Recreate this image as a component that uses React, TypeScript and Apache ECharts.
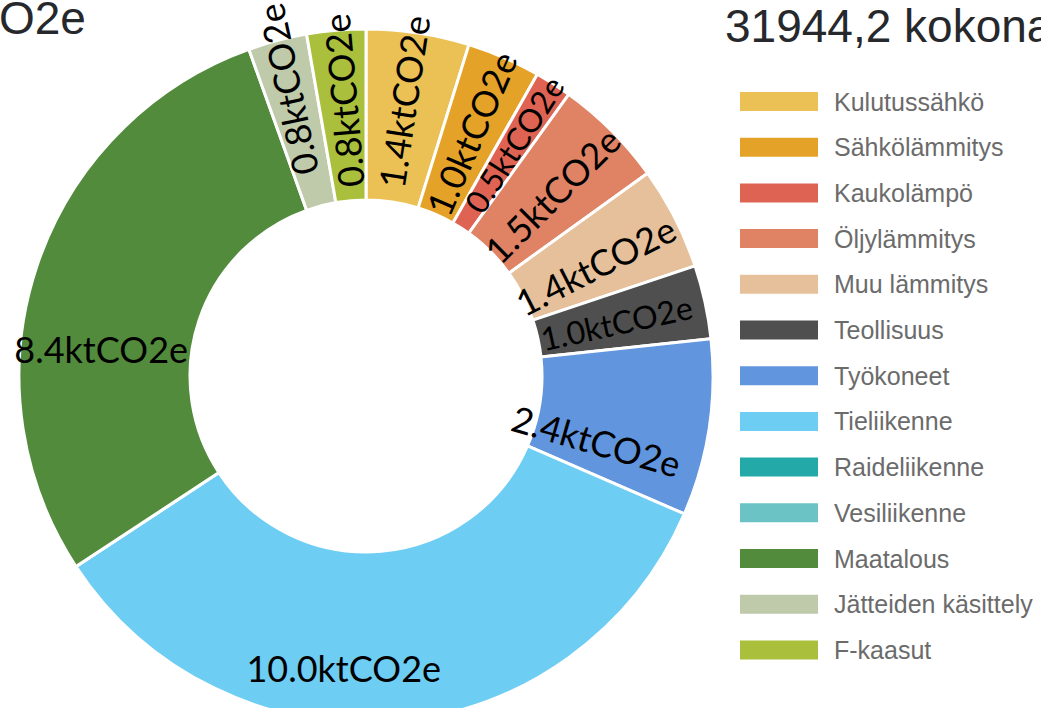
import React, { useEffect, useRef } from "react";
import * as echarts from "echarts";

const categories = [
  "Kulutussähkö",
  "Sähkölämmitys",
  "Kaukolämpö",
  "Öljylämmitys",
  "Muu lämmitys",
  "Teollisuus",
  "Työkoneet",
  "Tieliikenne",
  "Raideliikenne",
  "Vesiliikenne",
  "Maatalous",
  "Jätteiden käsittely",
  "F-kaasut",
];
const valuesKt = [1.4, 1.0, 0.5, 1.5, 1.4, 1.0, 2.4, 10.0, 0, 0, 8.4, 0.8, 0.8];
const colors = [
  "#EBC155",
  "#E5A228",
  "#DE6353",
  "#E08264",
  "#E6C09A",
  "#4F4F4F",
  "#6195DD",
  "#6ECDF2",
  "#22A9A8",
  "#6CC3C6",
  "#528B3C",
  "#BECAAA",
  "#AABF3B",
];
const titleLeft = "O2e";
const titleRight = "31944,2 kokona";
const unit = "ktCO2e";

// style tweaks (label orientation in degrees, screen-space nudges in px, sizes) by category
const labelRotate: Record<string, number> = {
  Maatalous: 0,
  Tieliikenne: 0,
  Työkoneet: -16,
  "Jätteiden käsittely": 102,
  "F-kaasut": 95,
};
const labelNudge: Record<string, [number, number]> = {
  Kulutussähkö: [-2, -13],
  Kaukolämpö: [5, -9],
  Öljylämmitys: [-1, 6],
  "Muu lämmitys": [-6, 10],
  Teollisuus: [-8, 3],
  Työkoneet: [-31, 25],
  Tieliikenne: [-45, 28],
  Maatalous: [-14, 57],
  "Jätteiden käsittely": [-11, -31],
  "F-kaasut": [0, -12],
};
const labelFontSize: Record<string, number> = {
  Kaukolämpö: 32,
  Teollisuus: 32,
};

export default function App() {
  const ref = useRef<HTMLDivElement>(null);
  useEffect(() => {
    if (!ref.current) return;
    const chart = echarts.init(ref.current, undefined, { renderer: "svg" });
    const total = valuesKt.reduce((a, b) => a + b, 0);
    // label rotation (deg, CCW) for each slice: explicit or radial
    const rotations = categories.map((name, i) => {
      if (name in labelRotate) return labelRotate[name];
      const before = valuesKt.slice(0, i).reduce((a, b) => a + b, 0);
      const midCw = ((before + valuesKt[i] / 2) / total) * 360;
      let a = 90 - midCw;
      while (a > 90) a -= 180;
      while (a <= -90) a += 180;
      return a;
    });
    const data = categories.map((name, i) => {
      const item: any = {
        name,
        value: valuesKt[i],
        itemStyle: { color: colors[i] },
      };
      if (valuesKt[i] === 0) {
        item.label = { show: false };
      } else {
        const lbl: any = {};
        if (name in labelRotate) lbl.rotate = labelRotate[name];
        if (name in labelFontSize) lbl.fontSize = labelFontSize[name];
        item.label = lbl;
      }
      return item;
    });
    chart.setOption({
      animation: false,
      backgroundColor: "#ffffff",
      legend: {
        orient: "vertical",
        left: 738,
        top: 89,
        padding: 0,
        icon: "rect",
        itemWidth: 80,
        itemHeight: 21,
        itemGap: 20.7,
        data: categories,
        textStyle: {
          fontFamily: "Liberation Sans, Arial, sans-serif",
          fontSize: 25,
          lineHeight: 24,
          color: "#6b6b6b",
          padding: [0, 0, 0, 10],
        },
      },
      graphic: [
        {
          type: "text",
          style: {
            text: titleLeft,
            x: -1,
            y: -5,
            fontFamily: "Liberation Sans, Arial, sans-serif",
            fontSize: 46,
            fill: "#26282c",
          },
        },
        {
          type: "text",
          style: {
            text: titleRight,
            x: 725,
            y: 3,
            fontFamily: "Liberation Sans, Arial, sans-serif",
            fontSize: 46,
            fill: "#26282c",
          },
        },
      ],
      series: [
        {
          type: "pie",
          center: [366, 376],
          radius: [176, 347],
          startAngle: 90,
          clockwise: true,
          avoidLabelOverlap: false,
          itemStyle: { borderColor: "#ffffff", borderWidth: 3 },
          label: {
            show: true,
            position: "inside",
            rotate: "radial",
            overflow: "none",
            formatter: (p: any) => p.value.toFixed(1) + unit,
            fontFamily: "Lato, sans-serif",
            fontSize: 36,
            color: "#000000",
          },
          labelLine: { show: false },
          emphasis: { disabled: true },
          labelLayout: (params: any) => {
            const i = params.dataIndex;
            const n = labelNudge[categories[i]];
            if (!n) return {};
            // dx/dy are applied in the label's rotated frame: convert screen offset
            const phi = (rotations[i] * Math.PI) / 180;
            const c = Math.cos(phi);
            const s = Math.sin(phi);
            return { dx: n[0] * c - n[1] * s, dy: n[0] * s + n[1] * c };
          },
          data,
        },
      ],
    });
    return () => chart.dispose();
  }, []);
  return (
    <div
      ref={ref}
      style={{ position: "fixed", left: 0, top: 0, width: 1041, height: 708 }}
    />
  );
}
